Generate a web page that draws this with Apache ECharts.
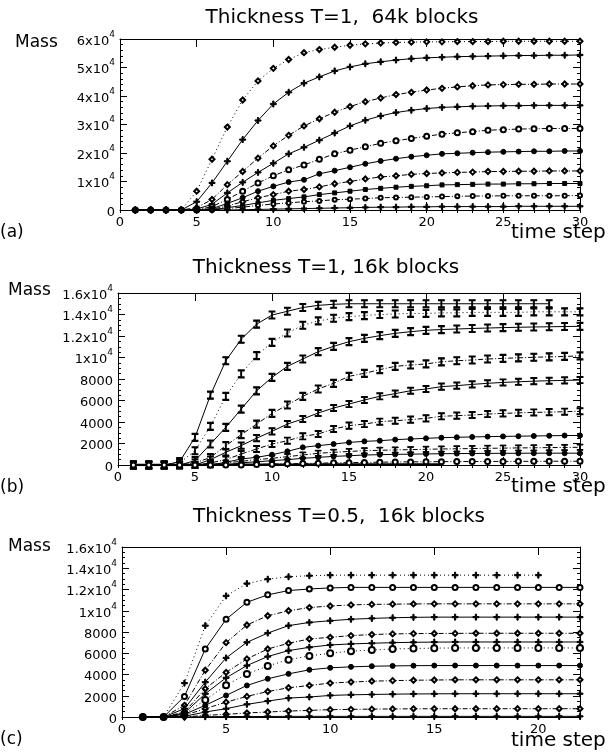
<!DOCTYPE html>
<html><head><meta charset="utf-8">
<script src="https://cdn.jsdelivr.net/npm/echarts@6/dist/echarts.min.js"></script>
<style>html,body{margin:0;padding:0;background:#fff}#c{width:613px;height:756px}</style>
</head><body><div id="c"></div>
<script>
// ---------- DATA ----------
const stepsA = [1,2,3,4,5,6,7,8,9,10,11,12,13,14,15,16,17,18,19,20,21,22,23,24,25,26,27,28,29,30];
const a1 = [0,0,0,0,6600,17800,29100,38600,45300,49700,52800,55200,56300,57100,57800,58300,58600,58800,58900,59000,59000,59100,59100,59100,59200,59200,59200,59200,59200,59200];
const a2 = [0,0,0,0,2900,9500,17100,24700,31400,37200,41300,44500,46700,48800,50200,51300,52000,52600,53100,53400,53600,53800,53900,54000,54100,54200,54200,54300,54300,54400];
const a3 = [0,0,0,0,800,3700,8900,13500,18200,22500,26200,29500,32000,34300,36300,38000,39300,40500,41300,42100,42700,43200,43600,43900,44000,44100,44100,44200,44200,44200];
const a4 = [0,0,0,0,300,2000,6000,9700,13200,16400,19700,22000,24500,27000,29500,31500,33000,34200,35000,35600,36000,36200,36400,36500,36600,36600,36700,36700,36700,36700];
const a5 = [0,0,0,0,0,1200,3700,6600,9500,12000,14100,15800,17800,19700,21000,22200,23400,24300,25100,25900,26600,27100,27500,28000,28200,28400,28500,28600,28600,28600];
const a6 = [0,0,0,0,0,500,2300,4300,6600,8300,9800,10600,12700,13800,15000,16200,17200,18000,18700,19200,19700,19900,20100,20300,20400,20500,20600,20600,20700,20700];
const a7 = [0,0,0,0,0,300,1400,2900,4300,5400,6600,7200,8100,9200,10000,10900,11600,12000,12500,12800,13000,13200,13300,13500,13500,13600,13600,13700,13700,13700];
const a8 = [0,0,0,0,0,100,800,1600,2500,3400,4000,4600,5400,6000,6600,7200,7600,8000,8300,8500,8800,8900,9000,9100,9100,9200,9200,9300,9300,9300];
const a9 = [0,0,0,0,0,0,500,1000,1600,2100,2500,2900,3200,3600,3800,4000,4300,4400,4500,4600,4700,4800,4900,4900,5000,5000,5000,5000,5000,5100];
const a10 = [0,0,0,0,0,0,0,100,200,300,400,500,600,700,800,900,1000,1000,1100,1100,1200,1200,1200,1200,1200,1300,1300,1300,1300,1300];

const stepsB = [1,2,3,4,5,6,7,8,9,10,11,12,13,14,15,16,17,18,19,20,21,22,23,24,25,26,27,28,29,30];
const b1 = [0,0,0,310,2570,6500,9700,11700,13100,13950,14300,14650,14850,14950,15000,15000,15000,15000,15000,15000,15000,15000,15000,15000,15000,15000,15000,15000];
const b2 = [0,0,0,190,1330,3600,6390,8470,10170,11410,12280,13000,13400,13650,13800,13900,14000,14050,14100,14100,14150,14150,14200,14200,14200,14200,14250,14250,14250,14250];
const b3 = [0,0,0,0,400,1950,3500,5200,6900,8150,9180,9860,10540,11040,11470,11780,12030,12250,12400,12530,12600,12650,12700,12740,12780,12810,12840,12860,12880,12900];
const b4 = [0,0,0,0,190,700,1800,2820,3800,4800,5580,6390,7070,7600,8250,8530,8870,9180,9300,9400,9600,9700,9770,9860,9920,9970,10020,10060,10100,10150];
const b5 = [0,0,0,0,0,500,1180,1800,2500,3130,3810,4280,4840,5300,5670,6050,6390,6640,6910,7070,7290,7380,7500,7600,7680,7740,7800,7840,7870,7900];
const b6 = [0,0,0,0,0,190,500,1020,1490,1950,2260,2670,2880,3350,3660,3810,4030,4120,4220,4340,4530,4590,4650,4740,4800,4850,4890,4920,4960,5000];
const b7 = [0,0,0,0,0,0,250,560,710,960,1270,1640,1800,1950,2100,2200,2260,2360,2420,2480,2540,2580,2610,2640,2660,2680,2700,2720,2740,2750];
const b8 = [0,0,0,0,0,0,190,340,500,620,780,930,1090,1180,1260,1330,1370,1400,1430,1460,1490,1510,1530,1550,1570,1590,1600,1620,1630,1650];
const b9 = [0,0,0,0,0,0,0,200,300,400,500,620,710,800,860,930,960,990,1010,1030,1050,1060,1070,1080,1090,1090,1100,1100,1100,1100];
const b10 = [0,0,0,0,0,0,0,0,50,80,110,140,170,200,220,240,260,280,290,300,310,320,320,330,330,340,340,350,350,350];
const b11 = [0,0,0,0,10,20,20,30,30,30,30,30,40,40,40,40,40,40,40,40,40];

const stepsC = [1,2,3,4,5,6,7,8,9,10,11,12,13,14,15,16,17,18,19,20,21,22];
const c1 = [0,0,3190,8600,11400,12560,12970,13200,13300,13350,13350,13350,13350,13350,13350,13350,13350,13350,13350,13350];
const c2 = [0,0,1940,6400,9200,10800,11500,11900,12050,12150,12200,12200,12200,12200,12200,12200,12200,12200,12200,12200,12200,12200];
const c3 = [0,0,1100,4400,7000,8660,9530,10000,10300,10450,10550,10600,10620,10640,10650,10650,10650,10650,10650,10650,10650,10650];
const c4 = [0,0,780,3280,5560,7030,7900,8600,8900,9060,9200,9280,9340,9380,9400,9400,9400,9400,9400,9400,9400,9400];
const c5 = [0,0,470,2660,4200,5470,6400,6940,7340,7500,7660,7760,7820,7850,7860,7870,7880,7880,7880,7880,7880,7880];
const c6 = [0,0,380,2190,3690,4840,5690,6250,6560,6780,6880,6940,7000,7030,7050,7060,7060,7060,7060,7060,7060,7060];
const c7 = [0,0,300,1600,3000,4050,4800,5400,5750,6000,6200,6300,6400,6450,6480,6500,6500,6500,6500,6500,6500,6500];
const c8 = [0,0,250,1100,2030,2970,3600,4060,4440,4630,4720,4780,4810,4830,4840,4840,4840,4840,4840,4840,4840,4840];
const c9 = [0,0,160,780,1400,1940,2400,2750,2970,3190,3290,3370,3420,3460,3480,3500,3500,3500,3500,3500,3500,3500];
const c10 = [0,0,60,470,780,1190,1500,1780,1880,2030,2090,2120,2150,2170,2180,2190,2190,2190,2190,2190,2190,2190];
const c11 = [0,0,0,160,250,380,470,560,620,690,720,740,760,770,780,780,780,780,780,780,780,780];
const c12 = [0,0,0,30,40,50,50,60,60,60,60,60,60,60,60,60,60,60,60,60,60,60];

const titles = ['Thickness T=1,  64k blocks', 'Thickness T=1, 16k blocks', 'Thickness T=0.5,  16k blocks'];
const panelLabels = ['(a)', '(b)', '(c)'];
const yName = 'Mass';
const xName = 'time step';

// ---------- STYLE / LAYOUT ----------
const FONT = 'DejaVu Sans';
const grids = [
  {left:120, top:39, width:460, height:171},
  {left:118, top:293, width:462, height:172},
  {left:122, top:547, width:458, height:170}
];
const xMax = [30, 30, 22];
const yMax = [60000, 16000, 16000];
const yInt = [10000, 2000, 2000];
const yMinor = [5, 4, 4];

const DOT = [1, 3];
const DASHDOT = [5, 2, 1, 2];
const PLUS = 'path://M2,0 H3 V2 H5 V3 H3 V5 H2 V3 H0 V2 H2 Z';
const IBEAM = 'path://M0,0 H6 V1 H3.5 V7 H6 V8 H0 V7 H2.5 V1 H0 Z';

function yFmt(v) {
  if (v === 0) return '{n|0}';
  if (v >= 10000) { return '{n|' + (v / 10000) + 'x10}{s|4}'; }
  return '{n|' + v + '}';
}

const xAxes = [], yAxes = [];
grids.forEach((g, gi) => {
  const base = {gridIndex: gi, type: 'value', min: 0, max: xMax[gi], splitLine: {show: false}};
  xAxes.push(Object.assign({}, base, {
    position: 'bottom', interval: 5,
    axisLine: {show: true, onZero: false, lineStyle: {color: '#000', width: 1}},
    axisTick: {show: true, inside: true, length: 8, lineStyle: {color: '#000'}},
    axisLabel: {show: true, margin: 6, color: '#000', fontFamily: FONT, fontSize: 13,
      formatter: v => (v % 5 === 0 ? String(v) : '')}
  }));
  xAxes.push(Object.assign({}, base, {
    position: 'bottom', interval: 1,
    axisLine: {show: false}, axisLabel: {show: false},
    axisTick: {show: true, inside: true, length: 3, lineStyle: {color: '#000'}}
  }));
  xAxes.push(Object.assign({}, base, {
    position: 'top', interval: 5,
    axisLine: {show: true, onZero: false, lineStyle: {color: '#000', width: 1}},
    axisTick: {show: true, inside: true, length: 8, lineStyle: {color: '#000'}},
    axisLabel: {show: false}
  }));
  xAxes.push(Object.assign({}, base, {
    position: 'top', interval: 1,
    axisLine: {show: false}, axisLabel: {show: false},
    axisTick: {show: true, inside: true, length: 3, lineStyle: {color: '#000'}}
  }));
  const ybase = {gridIndex: gi, type: 'value', min: 0, max: yMax[gi], interval: yInt[gi], splitLine: {show: false},
    axisLine: {show: true, onZero: false, lineStyle: {color: '#000', width: 1}},
    axisTick: {show: true, inside: true, length: 7, lineStyle: {color: '#000'}},
    minorTick: {show: true, splitNumber: yMinor[gi], length: 3, lineStyle: {color: '#000'}}};
  yAxes.push(Object.assign({}, ybase, {
    position: 'left',
    axisLabel: {show: true, margin: 5, formatter: yFmt,
      rich: {
        n: {fontFamily: FONT, fontSize: 13, color: '#000', lineHeight: 18, verticalAlign: 'bottom'},
        s: {fontFamily: FONT, fontSize: 9, color: '#000', lineHeight: 18, verticalAlign: 'top'}
      }}
  }));
  yAxes.push(Object.assign({}, ybase, {position: 'right', axisLabel: {show: false}}));
});

function mk(gi, steps, vals, sym, size, dash, width) {
  return {
    type: 'line', xAxisIndex: gi * 4, yAxisIndex: gi * 2,
    data: vals.map((v, i) => [steps[i], v]),
    symbol: sym, symbolSize: size, showSymbol: true,
    color: '#000', itemStyle: {color: '#000', borderColor: '#000', borderWidth: 1},
    lineStyle: {color: '#000', width: width || 1, type: dash},
    animation: false, silent: true, z: 3
  };
}

const series = [
  mk(0, stepsA, a1, 'emptyDiamond', 5, DOT),
  mk(0, stepsA, a2, PLUS, 6, 'solid'),
  mk(0, stepsA, a3, 'emptyDiamond', 5, DASHDOT),
  mk(0, stepsA, a4, PLUS, 6, 'solid'),
  mk(0, stepsA, a5, 'emptyCircle', 5, DASHDOT),
  mk(0, stepsA, a6, 'circle', 5, 'solid'),
  mk(0, stepsA, a7, 'emptyDiamond', 5, DASHDOT),
  mk(0, stepsA, a8, 'rect', 4, 'solid'),
  mk(0, stepsA, a9, 'emptyCircle', 4, DASHDOT),
  mk(0, stepsA, a10, PLUS, 6, 'solid'),

  mk(1, stepsB, b1, IBEAM, [6, 8], 'solid'),
  mk(1, stepsB, b2, IBEAM, [6, 8], DOT),
  mk(1, stepsB, b3, IBEAM, [6, 8], 'solid'),
  mk(1, stepsB, b4, IBEAM, [6, 8], DASHDOT),
  mk(1, stepsB, b5, IBEAM, [6, 7], 'solid'),
  mk(1, stepsB, b6, IBEAM, [6, 7], DASHDOT),
  mk(1, stepsB, b7, 'circle', 5, 'solid'),
  mk(1, stepsB, b8, IBEAM, [6, 6], DASHDOT),
  mk(1, stepsB, b9, 'circle', 5, 'solid'),
  mk(1, stepsB, b10, 'emptyCircle', 5, DASHDOT),
  mk(1, stepsB, b11, 'none', 1, 'solid', 2.5),

  mk(2, stepsC, c1, PLUS, 6, DOT),
  mk(2, stepsC, c2, 'emptyCircle', 5, 'solid'),
  mk(2, stepsC, c3, 'emptyDiamond', 5, DASHDOT),
  mk(2, stepsC, c4, PLUS, 6, 'solid'),
  mk(2, stepsC, c5, 'emptyDiamond', 5, DASHDOT),
  mk(2, stepsC, c6, PLUS, 6, 'solid'),
  mk(2, stepsC, c7, 'emptyCircle', 6, DOT),
  mk(2, stepsC, c8, 'circle', 5, 'solid'),
  mk(2, stepsC, c9, 'emptyDiamond', 5, DASHDOT),
  mk(2, stepsC, c10, PLUS, 6, 'solid'),
  mk(2, stepsC, c11, 'emptyDiamond', 5, DASHDOT),
  mk(2, stepsC, c12, PLUS, 6, 'solid')
];

function txt(text, x, y, size, align) {
  return {type: 'text', x: x, y: y, silent: true,
    style: {text: text, fontFamily: FONT, fontSize: size, fill: '#000',
      align: align || 'left', textAlign: align || 'left', verticalAlign: 'middle', textVerticalAlign: 'middle'}};
}
const titlePos = [[342, 18], [326, 268], [339, 517]];
const massPos = [[15, 43], [8, 291], [8, 547]];
const panelY = [233, 488, 740];
const tsY = [233, 487, 741];
const graphics = [];
for (let i = 0; i < 3; i++) {
  graphics.push(txt(titles[i], titlePos[i][0], titlePos[i][1], 20, 'center'));
  graphics.push(txt(yName, massPos[i][0], massPos[i][1], 17, 'left'));
  graphics.push(txt(panelLabels[i], 0, panelY[i], 17, 'left'));
  graphics.push(txt(xName, 511, tsY[i], 20, 'left'));
}

const chart = echarts.init(document.getElementById('c'), null, {renderer: 'canvas'});
chart.setOption({
  animation: false,
  backgroundColor: '#fff',
  grid: grids,
  xAxis: xAxes,
  yAxis: yAxes,
  series: series,
  graphic: graphics
});
</script></body></html>
